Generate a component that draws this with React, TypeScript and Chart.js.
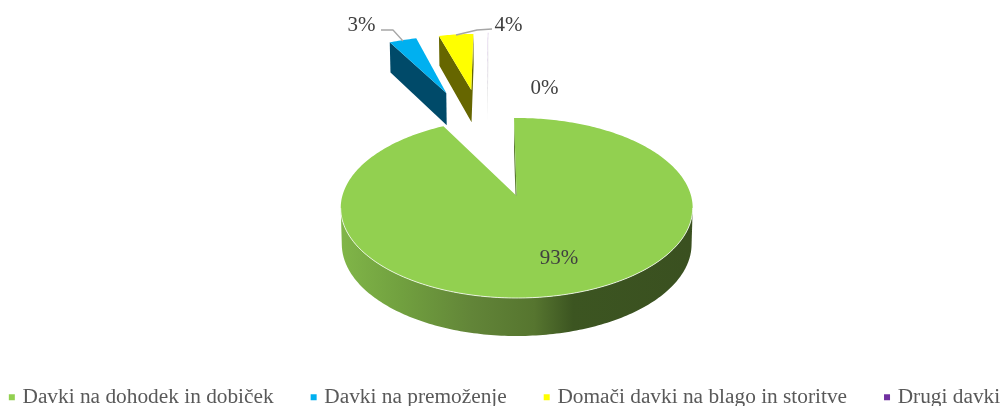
import React, { useEffect, useRef } from "react";
import { Chart, registerables } from "chart.js";

Chart.register(...registerables);

const categories = ["Davki na dohodek in dobiček", "Davki na premoženje", "Domači davki na blago in storitve", "Drugi davki"];
const shares = [92.5, 3.3, 4.18, 0.02];
const topColors = ["#92D050", "#00B0F0", "#FFFF00", "#7030A0"];
const wallColors = ["#5f8135", "#004A69", "#666600", "#D9D9D9"];
const explodeX = [0, -0.478, -0.31, -0.2];
const explodeY = [0, -1.379, -1.427, -1.45];
const labelX = [559, 361.5, 508.5, 544.5];
const labelY = [258, 25, 25, 88];

// canvas is wider and taller than the page so the native legend lands where the reference has it
const SHIFT = 34;
const CX = 516.7 + SHIFT;
const CY = 196;
const RX = 174.4;
const RY = 88.4;
const K = 0.1333;

const project = (X: number, Y: number) => {
  const d = 1 - K * Y;
  return { x: CX + (RX * X) / d, y: CY + (RY * Y) / d };
};
const lower = (p: { x: number; y: number }, Y: number) => ({
  x: CX + (p.x - CX) * 0.994,
  y: p.y + 35.6 + 2.4 * Y,
});

const pie3d = {
  id: "pie3d",
  beforeDatasetsDraw(chart: any) {
    const { ctx } = chart;
    const arcs = chart.getDatasetMeta(0).data;
    const values = chart.data.datasets[0].data as number[];
    const total = values.reduce((a: number, b: number) => a + b, 0);
    ctx.save();
    ctx.lineJoin = "round";
    for (let i = arcs.length - 1; i >= 0; i--) {
      const { startAngle, endAngle } = arcs[i];
      const ex = explodeX[i];
      const ey = explodeY[i];
      const n = Math.max(2, Math.ceil(((endAngle - startAngle) * 180) / Math.PI));
      const plane: [number, number][] = [[ex, ey]];
      for (let s = 0; s <= n; s++) {
        const a = startAngle + ((endAngle - startAngle) * s) / n;
        plane.push([ex + Math.cos(a), ey + Math.sin(a)]);
      }
      plane.push([ex, ey]);
      const top = plane.map(([X, Y]) => project(X, Y));
      const bottom = top.map((p, j) => lower(p, plane[j][1]));
      let wall: any = wallColors[i];
      if (i === 0) {
        wall = ctx.createLinearGradient(342 + SHIFT, 0, 692 + SHIFT, 0);
        wall.addColorStop(0, "#80B548");
        wall.addColorStop(0.17, "#71A03F");
        wall.addColorStop(0.37, "#628538");
        wall.addColorStop(0.55, "#56752F");
        wall.addColorStop(0.66, "#3C5521");
        wall.addColorStop(1, "#3A5020");
      }
      // only the faces turned to the viewer, as one path so no seams appear
      ctx.beginPath();
      for (let j = 0; j < top.length - 1; j++) {
        const q = [top[j], top[j + 1], bottom[j + 1], bottom[j]];
        let area = 0;
        q.forEach((p, m) => {
          const o = q[(m + 1) % 4];
          area += p.x * o.y - o.x * p.y;
        });
        if (area >= 0) continue;
        ctx.moveTo(q[0].x, q[0].y);
        ctx.lineTo(q[1].x, q[1].y);
        ctx.lineTo(q[2].x, q[2].y);
        ctx.lineTo(q[3].x, q[3].y);
        ctx.closePath();
      }
      ctx.fillStyle = wall;
      ctx.fill();
      ctx.beginPath();
      top.forEach((p, j) => (j ? ctx.lineTo(p.x, p.y) : ctx.moveTo(p.x, p.y)));
      ctx.closePath();
      ctx.fillStyle = topColors[i];
      ctx.fill();
      if (i === 0) {
        ctx.beginPath();
        let open = false;
        plane.slice(1, -1).forEach(([, Y], j) => {
          const p = top[j + 1];
          if (Y > K) {
            if (open) ctx.lineTo(p.x, p.y);
            else ctx.moveTo(p.x, p.y);
            open = true;
          }
        });
        ctx.strokeStyle = "rgba(255,255,255,0.75)";
        ctx.lineWidth = 1;
        ctx.stroke();
      }
    }
    // leader lines
    ctx.strokeStyle = "#A6A6A6";
    ctx.lineWidth = 1.3;
    ctx.beginPath();
    ctx.moveTo(381 + SHIFT, 30);
    ctx.lineTo(393 + SHIFT, 30);
    ctx.lineTo(403 + SHIFT, 41);
    ctx.moveTo(456 + SHIFT, 35);
    ctx.lineTo(477 + SHIFT, 30);
    ctx.lineTo(492 + SHIFT, 29);
    ctx.stroke();
    // data labels
    ctx.font = '21px "Liberation Serif"';
    ctx.fillStyle = "#404040";
    ctx.textAlign = "center";
    ctx.textBaseline = "middle";
    values.forEach((v: number, i: number) => {
      ctx.fillText(`${Math.round((v / total) * 100)}%`, labelX[i] + SHIFT, labelY[i]);
    });
    ctx.restore();
    return false;
  },
};

export default function App() {
  const ref = useRef<HTMLCanvasElement>(null);
  useEffect(() => {
    const chart = new Chart(ref.current as HTMLCanvasElement, {
      type: "pie",
      data: {
        labels: categories,
        datasets: [{ data: shares, backgroundColor: topColors, borderWidth: 0 }],
      },
      options: {
        animation: false,
        responsive: false,
        rotation: -1,
        plugins: {
          tooltip: { enabled: false },
          legend: {
            position: "bottom",
            labels: {
              usePointStyle: true,
              pointStyle: "rect",
              boxWidth: 0.01,
              boxHeight: 6,
              padding: 40,
              color: "#595959",
              font: { family: '"Liberation Serif"', size: 21.33 },
            },
          },
        },
      },
      plugins: [pie3d],
    } as any);
    return () => chart.destroy();
  }, []);
  return (
    <div style={{ position: "fixed", left: 0, top: 0, width: 1001, height: 406, overflow: "hidden", background: "#fff" }}>
      <canvas ref={ref} width={1080} height={418} style={{ position: "absolute", left: -SHIFT, top: 0 }} />
    </div>
  );
}
